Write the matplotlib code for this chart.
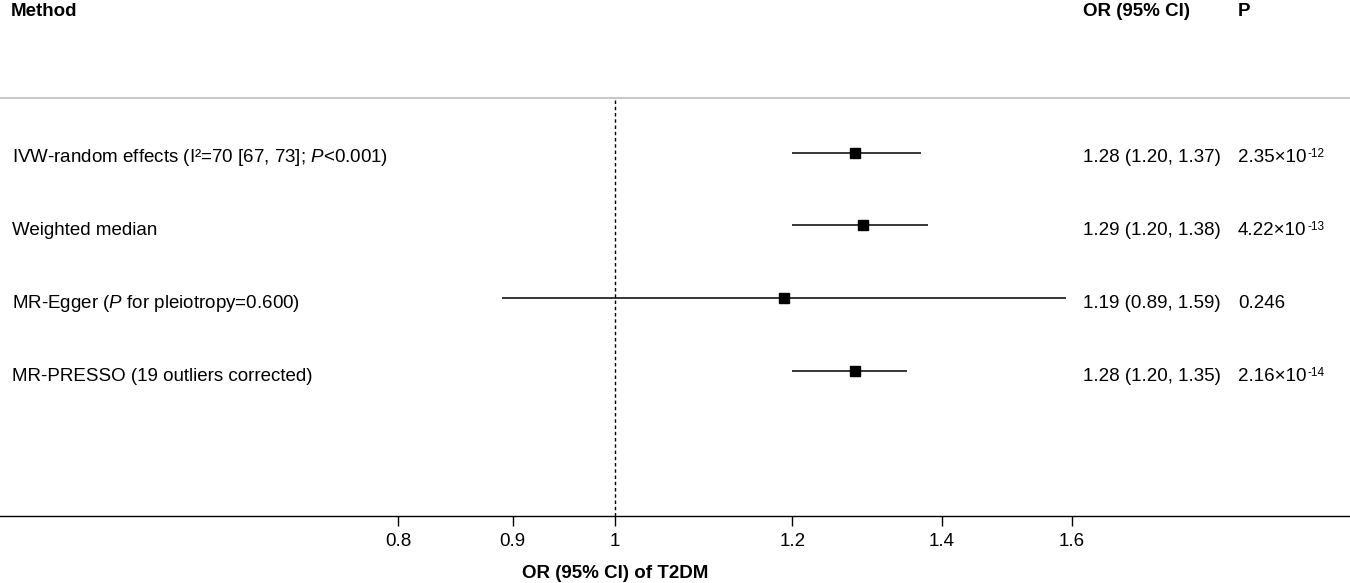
import matplotlib
matplotlib.use("Agg")
import matplotlib.pyplot as plt
import matplotlib.transforms as mtransforms

plt.rcParams['font.family'] = ['Liberation Sans', 'DejaVu Sans']
plt.rcParams['mathtext.fontset'] = 'custom'
plt.rcParams['mathtext.rm'] = 'Liberation Sans'
plt.rcParams['mathtext.it'] = 'Liberation Sans:italic'
plt.rcParams['mathtext.bf'] = 'Liberation Sans:bold'

# data
methods = [
    "IVW-random effects (I\u00b2=70 [67, 73]; $\\mathit{P}$<0.001)",
    "Weighted median",
    "MR-Egger ($\\mathit{P}$ for pleiotropy=0.600)",
    "MR-PRESSO (19 outliers corrected)",
]
or_est = [1.28, 1.29, 1.19, 1.28]
ci_low = [1.20, 1.20, 0.89, 1.20]
ci_high = [1.37, 1.38, 1.59, 1.35]
or_text = ["1.28 (1.20, 1.37)", "1.29 (1.20, 1.38)", "1.19 (0.89, 1.59)", "1.28 (1.20, 1.35)"]
p_base = ["2.35\u00d710", "4.22\u00d710", "0.246", "2.16\u00d710"]
p_exp = ["-12", "-13", "", "-14"]
xticks = [0.8, 0.9, 1, 1.2, 1.4, 1.6]
xticklabels = ["0.8", "0.9", "1", "1.2", "1.4", "1.6"]

FS = 13.5
W, H = 1350, 583

fig = plt.figure(figsize=(W / 100, H / 100), dpi=100)
# axes spans whole width, from header line down to the x axis line
top_px, bot_px = 97.7, 516
ax = fig.add_axes([0, (H - bot_px) / H, 1, (bot_px - top_px) / H])

rows = [1, 2, 3, 4]
ymin, ymax = 5.992, 0.245
ax.set_xscale('log')
ax.set_xlim(0.5312, 2.130)
ax.set_ylim(ymin, ymax)
per_px = (ymin - ymax) / (bot_px - top_px)

# forest marks
for r, est, lo, hi in zip(rows, or_est, ci_low, ci_high):
    ax.plot([lo, hi], [r, r], color='black', lw=1.1, solid_capstyle='butt')
ax.plot(or_est, rows, 's', color='black', ms=7.5, ls='none')

ax.axvline(1, color='black', lw=1.0, ls=(0, (2.5, 2)))

# spines
for s in ['left', 'right']:
    ax.spines[s].set_visible(False)
ax.spines['top'].set_color('#c8c8c8')
ax.spines['top'].set_linewidth(1.5)
ax.spines['bottom'].set_linewidth(1.0)

ax.set_yticks([])
ax.set_xticks(xticks)
ax.set_xticklabels(xticklabels, fontsize=FS)
ax.minorticks_off()
ax.tick_params(axis='x', length=7, width=1.0, pad=5)

# text columns
tr = ax.get_yaxis_transform()
off = 9.5 * per_px
renderer = fig.canvas.get_renderer()
for r, m, o, pb, pe in zip(rows, methods, or_text, p_base, p_exp):
    ax.text(12 / W, r + off, m, transform=tr, fontsize=FS, va='baseline', ha='left')
    ax.text(1083 / W, r + off, o, transform=tr, fontsize=FS, va='baseline', ha='left')
    t = ax.text(1238 / W, r + off, pb, transform=tr, fontsize=FS, va='baseline', ha='left')
    if pe:
        bb = t.get_window_extent(renderer)
        ax.text((bb.x1 + 0.5) / W, r + off - 5 * per_px, pe, transform=tr,
                fontsize=8.5, va='baseline', ha='left')

# headers
hy = 1 - 16 / H
fig.text(11 / W, hy, "Method", fontsize=FS, fontweight='bold', va='baseline')
fig.text(1083 / W, hy, "OR (95% CI)", fontsize=FS, fontweight='bold', va='baseline')
fig.text(1238 / W, hy, "P", fontsize=FS, fontweight='bold', va='baseline')

# x label centred on the null line
lab_tr = mtransforms.blended_transform_factory(ax.transData, fig.transFigure)
ax.text(1.0, 1 - 573 / H, "OR (95% CI) of T2DM", transform=lab_tr, fontsize=FS,
        fontweight='bold', ha='center', va='center')

fig.savefig("out.png", dpi=100)
